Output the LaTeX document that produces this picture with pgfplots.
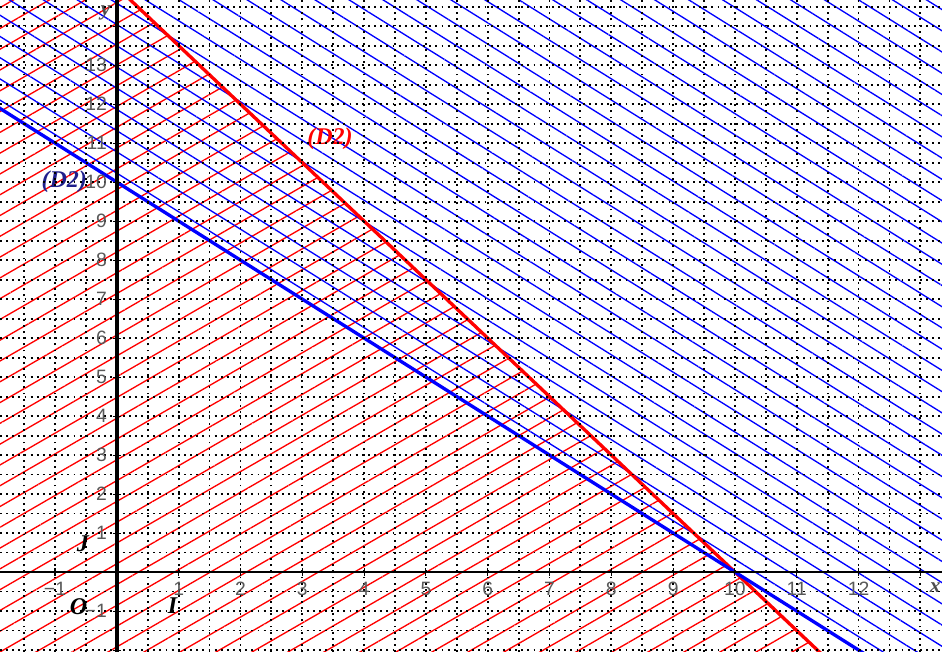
\documentclass[border=0pt]{standalone}
\usepackage{pgfplots}
\pgfplotsset{compat=1.18}
\usepackage{fontspec}
\setmainfont{Liberation Serif}
\newfontfamily\tickfont{Liberation Sans}
\usetikzlibrary{patterns.meta}
\definecolor{dblue}{rgb}{0.12,0.12,0.55}
\begin{document}
\begin{tikzpicture}
\begin{axis}[name=ax, scale only axis, width=706.5pt, height=489pt,
  xmin=-1.89, xmax=13.35, ymin=-2.05, ymax=14.67,
  axis lines=middle, axis on top,
  axis line style={-, black},
  x axis line style={line width=1.5pt},
  y axis line style={line width=3pt},
  xtick={-1,0,...,13},
  xticklabels={−1,0,1,2,3,4,5,6,7,8,9,10,11,12,{}},
  ytick={-2,-1,...,14},
  yticklabels={{},−1,{},1,2,3,4,5,6,7,8,9,10,11,12,13,{}},
  minor xtick={-1.5,-0.5,...,13.5},
  minor ytick={-1.5,-0.5,...,14.5},
  grid=both,
  grid style={black, line width=1.4pt, dash pattern=on 1.4pt off 3.2pt},
  major tick length=6pt, minor tick length=0pt,
  tick align=center,
  tick style={black, line width=0.8pt},
  tick label style={font=\tickfont\fontsize{14.5}{14.5}\selectfont, text=black!65},
  xticklabel style={yshift=-1pt},
  yticklabel style={xshift=-1pt},
  clip=true,
]
% hatched half-planes
\addplot[draw=none, pattern={Lines[angle=30, distance=13.5pt, line width=1pt]}, pattern color=red]
  coordinates {(-3,-3) (-3,16) (-0.6667,16) (12,-3)} -- cycle;
\addplot[draw=none, pattern={Lines[angle=-32, distance=13.5pt, line width=1pt]}, pattern color=blue]
  coordinates {(-3,13) (-3,16) (16,16) (16,-3) (13,-3)} -- cycle;
% boundary lines
\addplot[red, line width=2.5pt] coordinates {(-1,16.5) (12,-3)};
\addplot[blue, line width=2.5pt] coordinates {(-3,13) (13,-3)};
% labels
\node[text=red, font=\bfseries\itshape\fontsize{18}{18}\selectfont] at (axis cs:3.45,11.1) {(D2)};
\node[text=dblue, font=\bfseries\itshape\fontsize{18}{18}\selectfont] at (axis cs:-0.85,10.0) {(D2)};
\node[font=\bfseries\itshape\fontsize{18}{18}\selectfont] at (axis cs:-0.55,0.72) {J};
\node[font=\bfseries\itshape\fontsize{18}{18}\selectfont] at (axis cs:-0.62,-0.88) {O};
\node[font=\bfseries\itshape\fontsize{18}{18}\selectfont] at (axis cs:0.9,-0.85) {I};
\node[text=black!70, font=\bfseries\itshape\fontsize{16}{16}\selectfont] at (axis cs:13.24,-0.4) {x};
\node[text=black!70, font=\bfseries\itshape\fontsize{16}{16}\selectfont] at (axis cs:-0.18,14.35) {y};
\end{axis}
\pgfresetboundingbox
\path[use as bounding box] (ax.south west) rectangle (ax.north east);
\end{tikzpicture}
\end{document}
